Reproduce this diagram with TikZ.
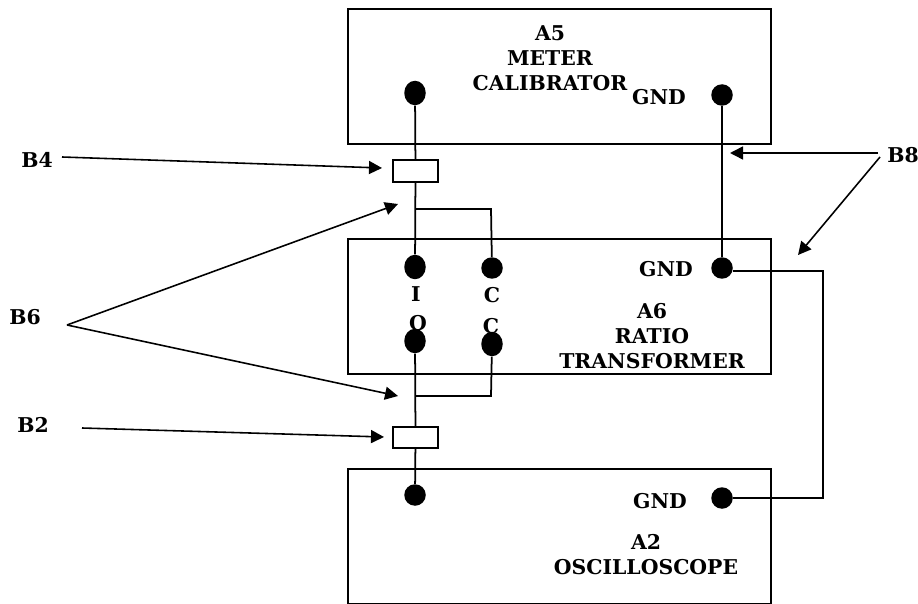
\documentclass[tikz,border=0pt]{standalone}
\usepackage{fontspec}
\setmainfont{DejaVu Serif}
\usetikzlibrary{arrows.meta,shapes.geometric}
\tikzset{
  lbl/.style={font=\bfseries\fontsize{11.6}{14.2}\selectfont,inner sep=0pt,align=center},
  unit/.style={draw,line width=1pt,minimum width=8.46cm,minimum height=2.7cm,inner sep=0pt},
  plug/.style={draw,fill=white,line width=1pt,minimum width=0.9cm,minimum height=0.43cm,inner sep=0pt},
  dot/.style={ellipse,fill=black,minimum width=0.43cm,minimum height=0.49cm,inner sep=0pt},
  gnddot/.style={circle,fill=black,minimum size=0.43cm,inner sep=0pt},
  wire/.style={line width=1pt},
  pointer/.style={line width=0.9pt,-{Triangle[length=2.6mm,width=2.6mm]}}
}
\begin{document}
\begin{tikzpicture}[x=0.02cm,y=-0.02cm]
\useasboundingbox (0,0) rectangle (918,604);
\node[unit] (meter) at (559.5,76.5) {};
\node[unit] (ratio) at (559.5,306.5) {};
\node[unit] (scope) at (559.5,536.5) {};
%
\node[lbl] (metertxt) at (550,58) {A5\\METER\\CALIBRATOR};
\node[lbl] (ratiotxt) at (652,336) {A6\\RATIO\\TRANSFORMER};
\node[lbl] (scopetxt) at (646,555) {A2\\OSCILLOSCOPE};
\node[lbl] (gndm) at (659,97) {GND};
\node[lbl] (gndr) at (666,269) {GND};
\node[lbl] (gnds) at (660,501) {GND};
\node[lbl] (inI) at (416,294) {I};
\node[lbl] (inC) at (492,295) {C};
\node[lbl] (outO) at (418,323) {O};
\node[lbl] (outC) at (491,326) {C};
%
\node[dot] (mhi) at (415,93) {};
\node[gnddot] (mgnd) at (722,95) {};
\node[dot] (ri) at (415,267) {};
\node[gnddot] (rc) at (492,268) {};
\node[gnddot] (rgnd) at (722,268) {};
\node[dot] (ro) at (415,341) {};
\node[dot] (rcc) at (492,344) {};
\node[gnddot] (shi) at (415,495) {};
\node[gnddot] (sgnd) at (722,498) {};
%
\node[plug] (ptop) at (415.5,171) {};
\node[plug] (pbot) at (415.5,437.5) {};
%
\coordinate (jtl) at (416,209);
\coordinate (jtr) at (491,209);
\coordinate (jbl) at (416,396);
\coordinate (jbr) at (491,396);
\coordinate (gtr) at (823,271);
\coordinate (gbr) at (823,498);
%
\draw[wire] (mhi) -- (ptop);
\draw[wire] (ptop) -- (ri);
\draw[wire] (jtl) -- (jtr) -- (rc);
\draw[wire] (mgnd) -- (rgnd);
\draw[wire] (rgnd.east |- gtr) -- (gtr) -- (gbr) -- (sgnd);
\draw[wire] (ro) -- (pbot);
\draw[wire] (jbl) -- (jbr) -- (rcc);
\draw[wire] (pbot) -- (shi);
%
\node[lbl] (bfour) at (37,160) {B4};
\node[lbl] (bsix) at (25,317) {B6};
\node[lbl] (btwo) at (33,425) {B2};
\node[lbl] (beight) at (903,155) {B8};
%
\coordinate (bfourtail) at (62,157);
\coordinate (bfourtip) at (382,168);
\coordinate (bsixtail) at (67,325);
\coordinate (bsixtipa) at (398,204);
\coordinate (bsixtipb) at (398,396);
\coordinate (btwotail) at (82,428);
\coordinate (btwotip) at (384,437);
\coordinate (beighttaila) at (878,153);
\coordinate (beighttailb) at (880,157);
\coordinate (beighttipa) at (730,153);
\coordinate (beighttipb) at (798,255);
%
\draw[pointer] (bfourtail) -- (bfourtip);
\draw[pointer] (bsixtail) -- (bsixtipa);
\draw[pointer] (bsixtail) -- (bsixtipb);
\draw[pointer] (btwotail) -- (btwotip);
\draw[pointer] (beighttaila) -- (beighttipa);
\draw[pointer] (beighttailb) -- (beighttipb);
\end{tikzpicture}
\end{document}
